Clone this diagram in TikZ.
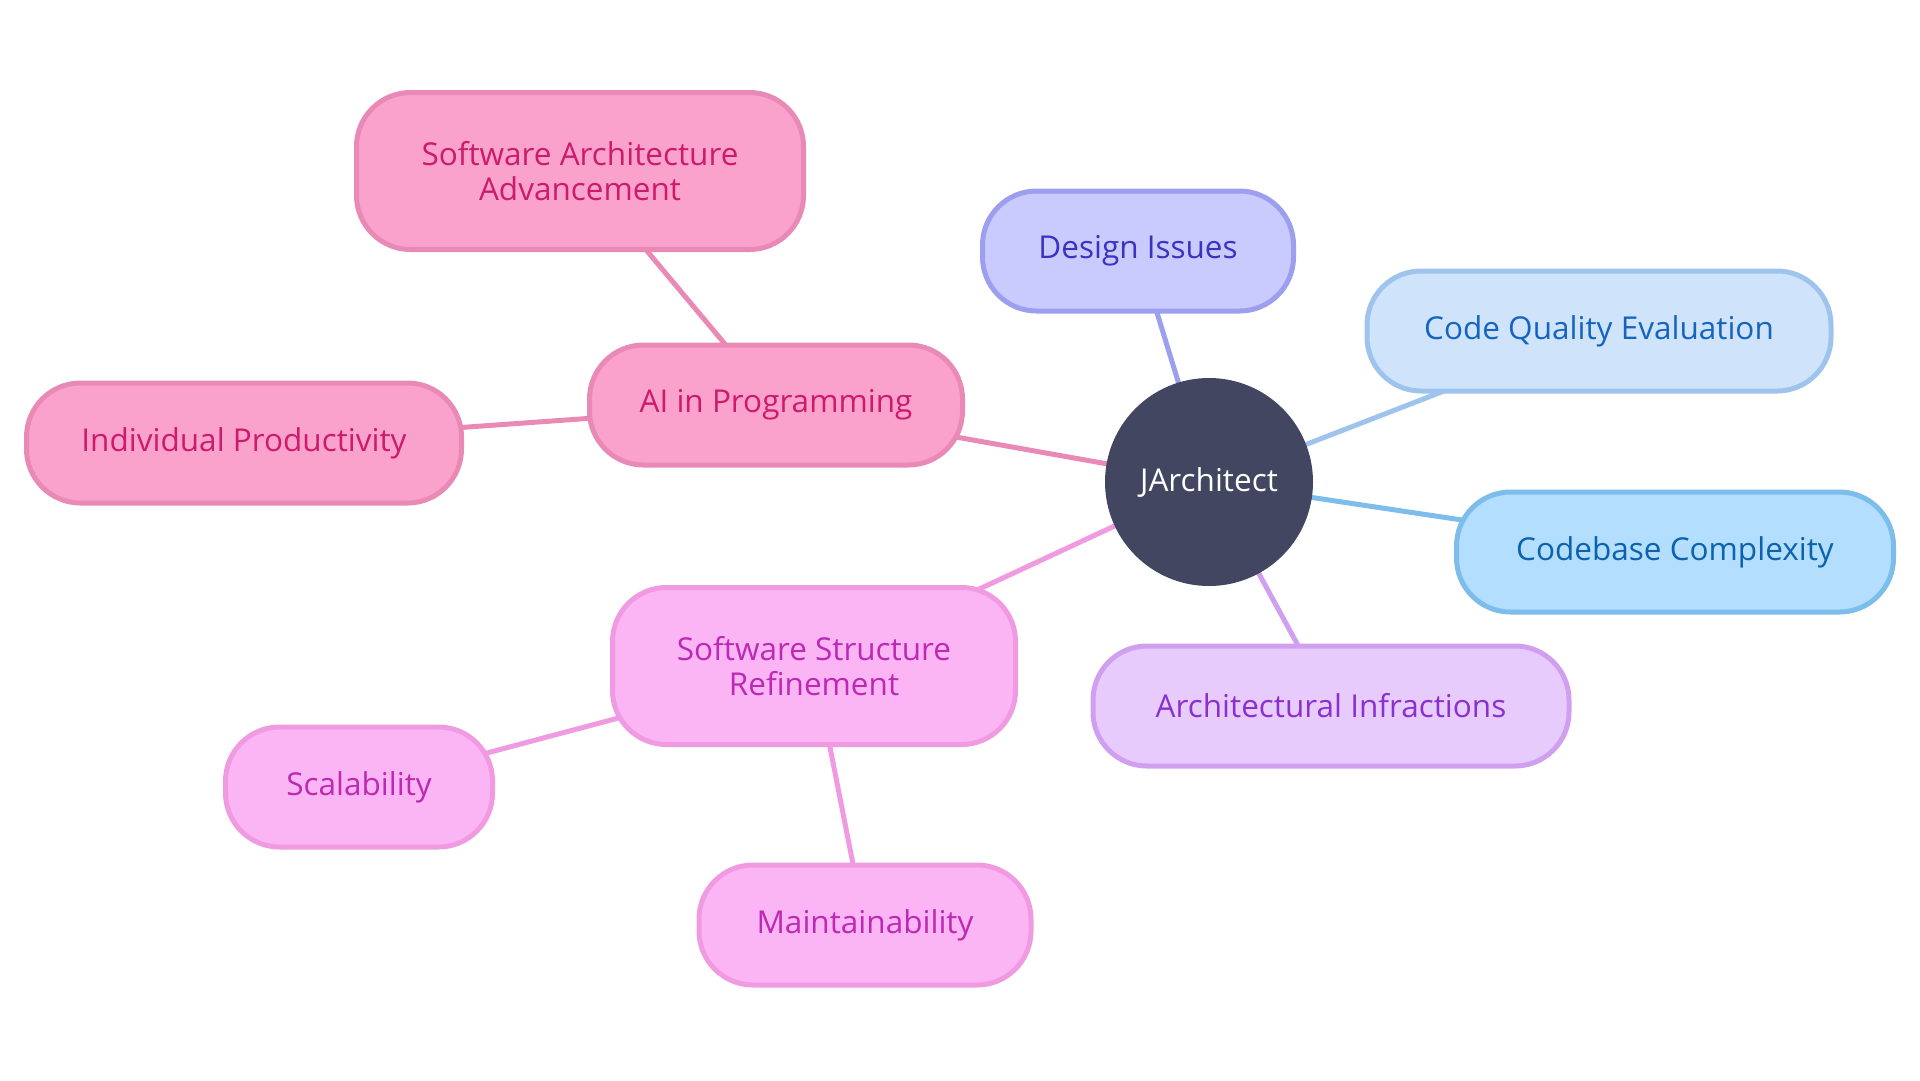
\documentclass[tikz,border=0pt]{standalone}
\usepackage{fontspec}
\setmainfont{Open Sans}
\usepackage{tikz}
\usetikzlibrary{positioning,backgrounds}
\definecolor{HubDark}{HTML}{424660}
\definecolor{PinkFill}{HTML}{FBA2CC}
\definecolor{PinkLine}{HTML}{E98AB6}
\definecolor{PinkText}{HTML}{CC1B6C}
\definecolor{OrchidFill}{HTML}{FCB5F4}
\definecolor{OrchidLine}{HTML}{F09BE1}
\definecolor{OrchidText}{HTML}{BD28B4}
\definecolor{IndigoFill}{HTML}{C9CAFD}
\definecolor{IndigoLine}{HTML}{9C9FEE}
\definecolor{IndigoText}{HTML}{3A33C2}
\definecolor{SkyFill}{HTML}{CFE3FB}
\definecolor{SkyLine}{HTML}{9EC4EE}
\definecolor{SkyText}{HTML}{1664BE}
\definecolor{AzureFill}{HTML}{B3DEFD}
\definecolor{AzureLine}{HTML}{7CBDEC}
\definecolor{AzureText}{HTML}{0D62AE}
\definecolor{LilacFill}{HTML}{E8CBFD}
\definecolor{LilacLine}{HTML}{D09FEF}
\definecolor{LilacText}{HTML}{8A30CF}
\tikzset{
  MB/.style={rectangle,rounded corners=54pt,draw,line width=5pt,
             align=center,inner sep=0pt,minimum height=120pt,
             font=\fontsize{31.5}{35}\selectfont},
  lnk/.style={line width=5pt},
  nP/.style={MB,fill=PinkFill,  draw=PinkLine,  text=PinkText},
  nO/.style={MB,fill=OrchidFill,draw=OrchidLine,text=OrchidText},
  nI/.style={MB,fill=IndigoFill,draw=IndigoLine,text=IndigoText},
  nS/.style={MB,fill=SkyFill,   draw=SkyLine,   text=SkyText},
  nA/.style={MB,fill=AzureFill, draw=AzureLine, text=AzureText},
  nL/.style={MB,fill=LilacFill, draw=LilacLine, text=LilacText}
}

\begin{document}
\begin{tikzpicture}[x=1pt,y=-1pt]
  \useasboundingbox (0,0) rectangle (1920,1080);
  \node[circle,fill=HubDark,text=white,minimum size=208pt,inner sep=0pt,
        font=\fontsize{31.5}{35}\selectfont] (hub) at (1209,482) {JArchitect};
  \node[nP,minimum width=373pt] (ai) at (776,405) {AI in Programming};
  \node[nP,minimum width=447pt,minimum height=157pt] (saa) at (580,171) {Software Architecture\\Advancement};
  \node[nP,minimum width=435pt] (ip) at (244,443) {Individual Productivity};
  \node[nO,minimum width=403pt,minimum height=157pt] (ssr) at (814,666) {Software Structure\\Refinement};
  \node[nO,minimum width=267pt] (sc) at (359,787) {Scalability};
  \node[nO,minimum width=332pt] (mt) at (865,925) {Maintainability};
  \node[nI,minimum width=311pt] (di) at (1138,251) {Design Issues};
  \node[nS,minimum width=464pt] (cq) at (1599,331) {Code Quality Evaluation};
  \node[nA,minimum width=437pt] (cc) at (1675,552) {Codebase Complexity};
  \node[nL,minimum width=476pt] (ar) at (1331,706) {Architectural Infractions};

  \begin{scope}[on background layer]
    \draw[lnk,PinkLine] (hub.center) -- (ai.center);
    \draw[lnk,PinkLine] (ai.center) -- (saa.center);
    \draw[lnk,PinkLine] (ai.center) -- (ip.center);
    \draw[lnk,OrchidLine] (hub.center) -- (ssr.center);
    \draw[lnk,OrchidLine] (ssr.center) -- (sc.center);
    \draw[lnk,OrchidLine] (ssr.center) -- (mt.center);
    \draw[lnk,IndigoLine] (hub.center) -- (di.center);
    \draw[lnk,SkyLine] (hub.center) -- (cq.center);
    \draw[lnk,AzureLine] (hub.center) -- (cc.center);
    \draw[lnk,LilacLine] (hub.center) -- (ar.center);
  \end{scope}
\end{tikzpicture}
\end{document}
